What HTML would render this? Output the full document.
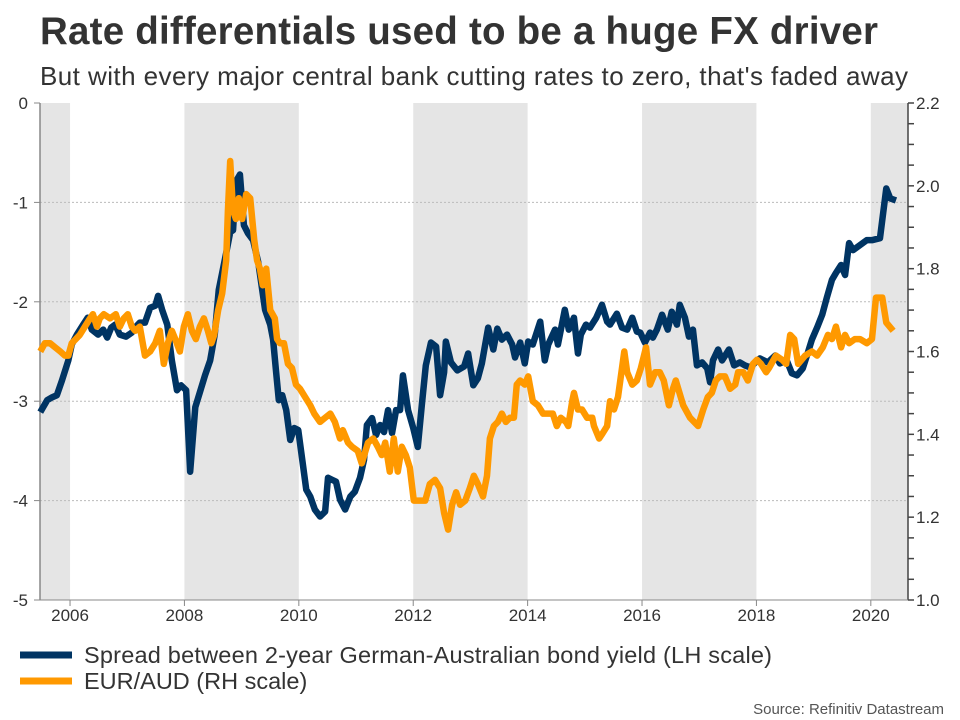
<!DOCTYPE html>
<html><head><meta charset="utf-8"><style>
body{margin:0;background:#fff;font-family:"Liberation Sans",Arial,sans-serif;}
#c{position:relative;width:960px;height:720px;overflow:hidden;}
</style></head><body>
<div id="c">
<svg id="s" width="960" height="720" xmlns="http://www.w3.org/2000/svg">
<text x="40" y="44" font-size="38.5" font-weight="bold" fill="#333" textLength="838">Rate differentials used to be a huge FX driver</text>
<text x="40" y="85" font-size="26" fill="#333" textLength="868">But with every major central bank cutting rates to zero, that's faded away</text>
<g id="plot"></g>
<line x1="20" y1="655" x2="72" y2="655" stroke="#003463" stroke-width="7"/>
<text x="84" y="663" font-size="23.5" fill="#333" textLength="688">Spread between 2-year German-Australian bond yield (LH scale)</text>
<line x1="20" y1="681" x2="72" y2="681" stroke="#ff9900" stroke-width="7"/>
<text x="84" y="689" font-size="23.5" fill="#333">EUR/AUD (RH scale)</text>
<text x="944" y="714" font-size="15" fill="#555" text-anchor="end">Source: Refinitiv Datastream</text>
</svg>
</div>
<script>
const xTickYears=[2006,2008,2010,2012,2014,2016,2018,2020];
const leftTicks=[0,-1,-2,-3,-4,-5];
const rightTicks=[2.2,2.0,1.8,1.6,1.4,1.2,1.0];
const shadeStarts=[2004,2008,2012,2016,2020];
const blueYears=[2005.48,2005.60,2005.69,2005.77,2005.86,2005.97,2006.03,2006.12,2006.23,2006.31,2006.38,2006.49,2006.58,2006.65,2006.72,2006.79,2006.87,2006.98,2007.08,2007.17,2007.22,2007.31,2007.40,2007.49,2007.54,2007.61,2007.70,2007.78,2007.87,2007.94,2008.03,2008.10,2008.19,2008.27,2008.36,2008.45,2008.53,2008.60,2008.67,2008.74,2008.80,2008.85,2008.90,2008.97,2009.04,2009.11,2009.20,2009.29,2009.36,2009.41,2009.50,2009.55,2009.60,2009.65,2009.71,2009.78,2009.85,2009.92,2009.99,2010.06,2010.13,2010.20,2010.28,2010.37,2010.46,2010.51,2010.58,2010.65,2010.72,2010.81,2010.90,2010.98,2011.07,2011.14,2011.19,2011.28,2011.35,2011.42,2011.49,2011.56,2011.63,2011.70,2011.77,2011.82,2011.91,2012.00,2012.08,2012.15,2012.22,2012.31,2012.40,2012.47,2012.54,2012.57,2012.66,2012.77,2012.89,2012.96,2013.05,2013.13,2013.20,2013.31,2013.40,2013.47,2013.55,2013.64,2013.73,2013.78,2013.87,2013.95,2014.01,2014.09,2014.22,2014.30,2014.36,2014.48,2014.53,2014.65,2014.72,2014.81,2014.88,2014.93,2015.02,2015.09,2015.20,2015.30,2015.39,2015.44,2015.56,2015.65,2015.74,2015.83,2015.91,2015.97,2016.05,2016.14,2016.19,2016.26,2016.35,2016.45,2016.52,2016.61,2016.66,2016.75,2016.82,2016.89,2016.96,2017.05,2017.14,2017.19,2017.24,2017.33,2017.40,2017.52,2017.61,2017.71,2017.80,2017.89,2017.98,2018.06,2018.20,2018.33,2018.41,2018.53,2018.62,2018.71,2018.81,2018.90,2018.97,2019.06,2019.15,2019.23,2019.32,2019.39,2019.48,2019.55,2019.62,2019.69,2019.81,2019.93,2020.02,2020.09,2020.16,2020.27,2020.34,2020.44];
const blueValues=[-3.11,-2.99,-2.96,-2.94,-2.79,-2.59,-2.43,-2.33,-2.23,-2.16,-2.28,-2.33,-2.28,-2.36,-2.26,-2.23,-2.33,-2.35,-2.31,-2.24,-2.21,-2.21,-2.06,-2.04,-1.94,-2.08,-2.23,-2.59,-2.89,-2.84,-2.89,-3.71,-3.06,-2.91,-2.74,-2.59,-2.33,-1.88,-1.68,-1.48,-1.30,-1.28,-0.79,-0.72,-1.23,-1.31,-1.38,-1.60,-1.88,-2.08,-2.23,-2.38,-2.69,-2.99,-2.94,-3.09,-3.39,-3.27,-3.29,-3.59,-3.89,-3.96,-4.09,-4.16,-4.11,-3.77,-3.79,-3.81,-3.99,-4.09,-3.96,-3.91,-3.77,-3.59,-3.24,-3.17,-3.34,-3.24,-3.31,-3.09,-3.32,-3.09,-3.09,-2.74,-3.09,-3.27,-3.46,-3.04,-2.64,-2.41,-2.45,-2.94,-2.71,-2.40,-2.61,-2.69,-2.65,-2.52,-2.84,-2.77,-2.62,-2.26,-2.48,-2.27,-2.38,-2.33,-2.43,-2.56,-2.41,-2.62,-2.40,-2.43,-2.20,-2.59,-2.43,-2.28,-2.43,-2.08,-2.28,-2.16,-2.52,-2.33,-2.23,-2.26,-2.16,-2.03,-2.20,-2.23,-2.12,-2.26,-2.28,-2.16,-2.30,-2.31,-2.41,-2.31,-2.36,-2.28,-2.13,-2.28,-2.10,-2.23,-2.03,-2.16,-2.35,-2.28,-2.64,-2.61,-2.67,-2.81,-2.59,-2.48,-2.59,-2.48,-2.64,-2.61,-2.64,-2.66,-2.61,-2.57,-2.61,-2.54,-2.62,-2.59,-2.72,-2.74,-2.67,-2.51,-2.38,-2.26,-2.13,-1.96,-1.78,-1.71,-1.63,-1.73,-1.41,-1.48,-1.43,-1.38,-1.38,-1.37,-1.36,-0.86,-0.96,-0.98];
const orangeYears=[2005.48,2005.56,2005.65,2005.74,2005.83,2005.91,2005.97,2006.03,2006.10,2006.17,2006.26,2006.35,2006.40,2006.47,2006.52,2006.59,2006.70,2006.80,2006.87,2006.94,2007.01,2007.08,2007.14,2007.22,2007.31,2007.40,2007.49,2007.57,2007.64,2007.71,2007.78,2007.84,2007.92,2007.99,2008.06,2008.13,2008.20,2008.27,2008.34,2008.41,2008.47,2008.52,2008.59,2008.66,2008.73,2008.76,2008.80,2008.85,2008.90,2008.95,2009.01,2009.08,2009.15,2009.22,2009.27,2009.32,2009.37,2009.43,2009.50,2009.58,2009.62,2009.67,2009.74,2009.81,2009.88,2009.95,2010.02,2010.11,2010.20,2010.27,2010.37,2010.46,2010.55,2010.63,2010.72,2010.77,2010.86,2010.93,2011.03,2011.10,2011.21,2011.30,2011.38,2011.45,2011.51,2011.59,2011.66,2011.73,2011.80,2011.87,2011.94,2012.01,2012.08,2012.21,2012.29,2012.38,2012.47,2012.54,2012.61,2012.68,2012.75,2012.82,2012.91,2012.99,2013.06,2013.13,2013.22,2013.29,2013.34,2013.41,2013.48,2013.55,2013.62,2013.69,2013.76,2013.81,2013.87,2013.95,2014.01,2014.09,2014.18,2014.27,2014.34,2014.44,2014.51,2014.58,2014.67,2014.71,2014.78,2014.81,2014.88,2014.95,2015.04,2015.13,2015.16,2015.25,2015.30,2015.39,2015.44,2015.51,2015.58,2015.69,2015.74,2015.83,2015.91,2015.98,2016.07,2016.14,2016.23,2016.31,2016.38,2016.47,2016.54,2016.59,2016.72,2016.84,2016.91,2016.98,2017.07,2017.15,2017.22,2017.29,2017.36,2017.45,2017.54,2017.63,2017.68,2017.77,2017.85,2017.94,2018.01,2018.08,2018.17,2018.22,2018.34,2018.45,2018.52,2018.59,2018.66,2018.73,2018.85,2018.97,2019.06,2019.16,2019.25,2019.32,2019.39,2019.48,2019.55,2019.62,2019.72,2019.81,2019.93,2020.02,2020.09,2020.20,2020.27,2020.39];
const orangeValues=[1.60,1.62,1.62,1.61,1.60,1.59,1.59,1.62,1.63,1.64,1.66,1.68,1.69,1.66,1.68,1.69,1.68,1.69,1.66,1.68,1.69,1.66,1.65,1.66,1.59,1.60,1.62,1.65,1.57,1.62,1.65,1.63,1.60,1.66,1.69,1.65,1.63,1.66,1.68,1.65,1.62,1.64,1.70,1.74,1.82,1.94,2.06,1.94,1.92,1.97,1.92,1.98,1.97,1.87,1.82,1.80,1.76,1.80,1.70,1.68,1.63,1.62,1.62,1.57,1.56,1.52,1.51,1.49,1.47,1.45,1.43,1.44,1.45,1.43,1.39,1.41,1.38,1.37,1.36,1.33,1.38,1.39,1.37,1.35,1.38,1.31,1.39,1.31,1.37,1.35,1.32,1.24,1.24,1.24,1.28,1.29,1.27,1.21,1.17,1.23,1.26,1.23,1.24,1.27,1.30,1.28,1.25,1.30,1.39,1.42,1.43,1.45,1.43,1.44,1.44,1.52,1.53,1.52,1.54,1.48,1.47,1.45,1.45,1.45,1.42,1.44,1.43,1.42,1.48,1.50,1.46,1.46,1.44,1.44,1.42,1.39,1.40,1.42,1.48,1.46,1.49,1.60,1.55,1.52,1.53,1.56,1.61,1.52,1.55,1.55,1.53,1.47,1.51,1.53,1.47,1.44,1.43,1.42,1.46,1.49,1.50,1.53,1.54,1.54,1.51,1.52,1.55,1.55,1.53,1.57,1.58,1.57,1.55,1.56,1.59,1.58,1.57,1.64,1.63,1.57,1.59,1.60,1.59,1.61,1.64,1.63,1.66,1.61,1.64,1.62,1.63,1.63,1.62,1.63,1.73,1.73,1.67,1.65];

const NS="http://www.w3.org/2000/svg";
const L=40,R=908,T=103,B=600;
const x0=2005.475,x1=2020.65;
function xs(y){return L+(y-x0)/(x1-x0)*(R-L);}
function yl(v){return T+(0-v)/5*(B-T);}
function yr(v){return T+(2.2-v)/1.2*(B-T);}
const g=document.getElementById('plot');
function mk(tag,attrs){const e=document.createElementNS(NS,tag);for(const k in attrs)e.setAttribute(k,attrs[k]);g.appendChild(e);return e;}

shadeStarts.forEach(s=>{
  const a=Math.max(xs(s),L),b=Math.min(xs(s+2),R);
  if(b>a){const r=mk('rect',{x:a,y:T,width:b-a,height:B-T,fill:'#e5e5e5'});
  
  }
});
leftTicks.forEach(v=>{
  const y=yl(v);
  if(v!==0&&v!==-5){const gl=mk('line',{x1:L,x2:R,y1:y,y2:y,stroke:'#bbb','stroke-dasharray':'2,2','stroke-width':1});
  
  }
  mk('line',{x1:L-6,x2:L,y1:y,y2:y,stroke:'#888','stroke-width':1});
  const t=mk('text',{x:28,y:y+6,'font-size':17,fill:'#333','text-anchor':'end'});t.textContent=v;
  
  
});
for(let i=0;i<=24;i++){const v=1.0+i*0.05;const y=yr(v);mk('line',{x1:R,x2:R+6,y1:y,y2:y,stroke:'#444','stroke-width':1.5});}
rightTicks.forEach(v=>{
  const y=yr(v);
  const t=mk('text',{x:916,y:y+6,'font-size':17,fill:'#333'});t.textContent=v.toFixed(1);
  
  
});
xTickYears.forEach(yv=>{
  const x=xs(yv);
  mk('line',{x1:x,x2:x,y1:B,y2:B+6,stroke:'#888','stroke-width':1});
  const t=mk('text',{x:x,y:B+21,'font-size':17,fill:'#333','text-anchor':'middle'});t.textContent=yv;
  
  
});
const la=mk('line',{x1:L,x2:L,y1:T,y2:B,stroke:'#888','stroke-width':1.5});


const ra=mk('line',{x1:R,x2:R,y1:T,y2:B,stroke:'#444','stroke-width':1.5});


const ba=mk('line',{x1:L,x2:R,y1:B,y2:B,stroke:'#888','stroke-width':1});



const op=mk('polyline',{points:orangeYears.map((d,i)=>xs(d)+','+yr(orangeValues[i])).join(' '),fill:'none',stroke:'#ff9900','stroke-width':6.5,'stroke-linejoin':'round'});


const bp=mk('polyline',{points:blueYears.map((d,i)=>xs(d)+','+yl(blueValues[i])).join(' '),fill:'none',stroke:'#003463','stroke-width':6.5,'stroke-linejoin':'round'});


g.appendChild(op);
</script>
</body></html>
